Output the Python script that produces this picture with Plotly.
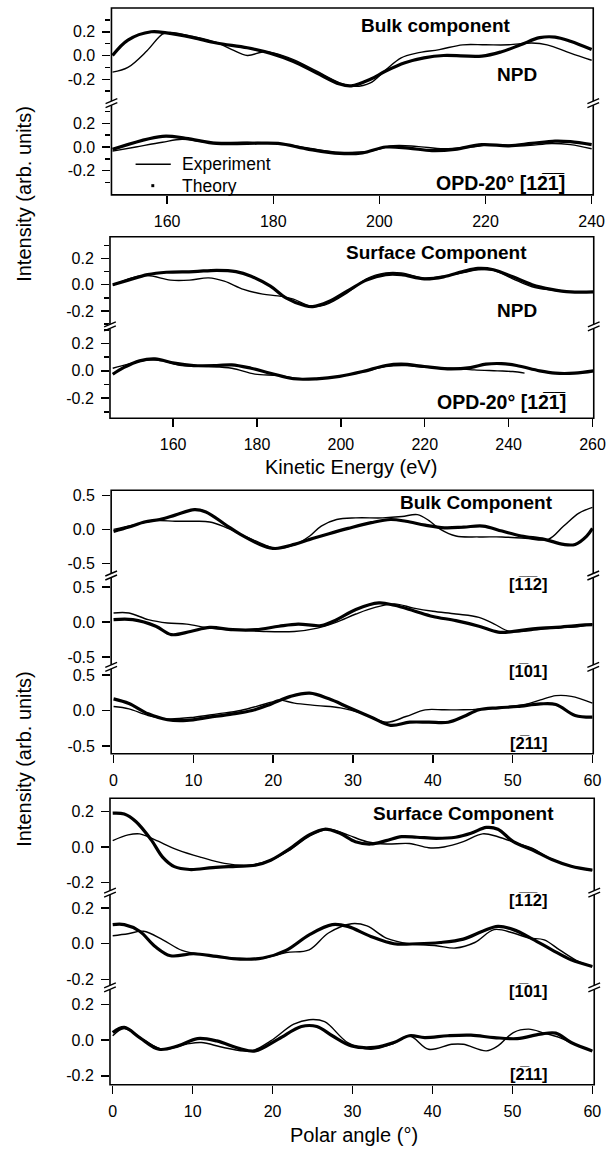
import plotly.graph_objects as go

W, H = 616, 1150

# ---------------- data ----------------
# Panel 1 (Bulk component, kinetic energy)
p1_npd_th_x = [149.7, 152.6, 157.0, 159.9, 164.9, 169.3, 175.1, 179.4, 183.8, 188.1, 192.5, 194.7, 198.3, 201.2, 204.8, 208.4, 212.1, 219.3, 222.9, 226.6, 230.2, 233.1, 236.0, 240.0]
p1_npd_th_y = [0.0, 0.13, 0.2, 0.19, 0.15, 0.105, 0.065, 0.02, -0.05, -0.145, -0.24, -0.255, -0.2, -0.13, -0.06, -0.02, 0.0, -0.005, 0.03, 0.09, 0.15, 0.155, 0.12, 0.05]
p1_npd_ex_x = [149.7, 152.6, 156.2, 159.1, 160.6, 164.9, 169.3, 172.2, 175.1, 178.0, 180.2, 183.8, 188.1, 192.5, 195.4, 198.3, 201.2, 204.1, 207.0, 211.3, 215.7, 220.0, 224.4, 228.7, 231.6, 236.0, 240.0]
p1_npd_ex_y = [-0.14, -0.1, 0.04, 0.18, 0.195, 0.16, 0.11, 0.05, 0.0, 0.03, 0.02, -0.035, -0.13, -0.23, -0.26, -0.23, -0.12, -0.02, 0.02, 0.05, 0.09, 0.09, 0.09, 0.105, 0.09, 0.02, -0.04]
p1_opd_th_x = [149.7, 159.1, 163.5, 169.3, 175.1, 180.9, 186.7, 192.5, 196.8, 201.2, 205.5, 209.9, 214.2, 219.3, 224.4, 228.7, 233.1, 236.0, 240.0]
p1_opd_th_y = [-0.02, 0.09, 0.073, 0.03, 0.03, 0.03, -0.02, -0.055, -0.05, 0.0, -0.01, -0.03, -0.02, 0.02, 0.01, 0.03, 0.05, 0.045, 0.02]
p1_opd_ex_x = [149.7, 154.1, 159.1, 162.8, 167.8, 175.1, 180.9, 186.7, 192.5, 198.3, 202.6, 207.0, 212.1, 217.1, 221.5, 227.3, 232.4, 236.0, 240.0]
p1_opd_ex_y = [-0.035, 0.0, 0.04, 0.065, 0.04, 0.04, 0.03, -0.01, -0.045, -0.035, 0.01, 0.005, -0.015, 0.0, 0.02, 0.01, 0.03, 0.02, -0.015]

# Panel 2 (Surface component, kinetic energy)
p2_npd_th_x = [145.6, 149.3, 153.9, 158.4, 164.9, 170.4, 175.0, 178.6, 183.2, 186.9, 191.5, 193.3, 197.0, 201.6, 206.1, 210.7, 214.4, 219.9, 224.5, 229.1, 232.7, 236.4, 241.0, 245.6, 250.2, 254.8, 260.3]
p2_npd_th_y = [0.0, 0.035, 0.077, 0.095, 0.1, 0.11, 0.1, 0.065, -0.01, -0.1, -0.16, -0.167, -0.13, -0.047, 0.035, 0.077, 0.077, 0.045, 0.06, 0.1, 0.124, 0.114, 0.06, 0.0, -0.035, -0.055, -0.055]
p2_npd_ex_x = [145.6, 150.2, 153.9, 159.4, 163.9, 168.5, 172.2, 176.8, 181.4, 185.0, 188.7, 192.4, 196.1, 201.6, 206.1, 210.7, 214.4, 219.9, 224.5, 229.1, 232.7, 236.4, 241.0, 245.6, 250.2, 254.8, 256.6]
p2_npd_ex_y = [-0.005, 0.052, 0.07, 0.035, 0.035, 0.052, 0.027, -0.035, -0.072, -0.085, -0.11, -0.16, -0.155, -0.06, 0.045, 0.09, 0.09, 0.05, 0.065, 0.092, 0.114, 0.11, 0.045, -0.015, -0.04, -0.055, -0.055]
p2_opd_th_x = [145.6, 148.3, 152.0, 155.7, 160.3, 164.9, 170.4, 174.0, 178.6, 183.2, 188.7, 194.2, 199.7, 205.2, 210.7, 214.4, 219.9, 225.4, 230.9, 234.6, 238.3, 241.9, 247.4, 251.1, 255.7, 260.3]
p2_opd_th_y = [-0.025, 0.025, 0.073, 0.087, 0.056, 0.039, 0.039, 0.044, 0.019, -0.017, -0.058, -0.058, -0.04, -0.005, 0.039, 0.049, 0.032, 0.015, 0.024, 0.049, 0.053, 0.039, 0.0, -0.017, -0.017, 0.0]
p2_opd_ex_x = [145.6, 149.3, 153.9, 157.5, 162.1, 168.5, 174.0, 179.5, 185.0, 190.6, 196.1, 201.6, 206.1, 210.7, 215.3, 220.8, 226.3, 231.8, 237.3, 241.0, 243.8]
p2_opd_ex_y = [0.019, 0.049, 0.08, 0.073, 0.039, 0.032, 0.019, -0.024, -0.034, -0.058, -0.053, -0.03, 0.0, 0.032, 0.039, 0.024, 0.019, 0.007, 0.0, -0.005, -0.017]

# Panel 3 (Bulk component, polar angle)
p3_112_th_x = [0, 1.93, 3.86, 5.78, 7.71, 10.12, 11.57, 13.98, 15.9, 18.8, 20.24, 22.65, 24.58, 26.99, 29.4, 32.29, 34.7, 36.63, 39.04, 41.45, 43.86, 46.27, 48.67, 51.08, 53.98, 56.39, 57.83, 59.28, 60]
p3_112_th_y = [-0.03, 0.035, 0.11, 0.146, 0.21, 0.29, 0.257, 0.073, -0.073, -0.243, -0.28, -0.22, -0.146, -0.063, 0.015, 0.1, 0.146, 0.12, 0.063, 0.024, 0.034, 0.05, -0.024, -0.097, -0.146, -0.22, -0.22, -0.097, 0.015]
p3_112_ex_x = [0, 2.41, 5.3, 7.71, 10.12, 12.05, 13.98, 16.39, 18.8, 20.24, 22.65, 24.58, 26.02, 27.95, 30.36, 33.73, 36.14, 38.07, 39.52, 40.96, 42.89, 45.78, 48.67, 51.57, 54.46, 56.39, 58.31, 60]
p3_112_ex_y = [0.0, 0.063, 0.13, 0.12, 0.12, 0.11, 0.034, -0.097, -0.22, -0.28, -0.228, -0.097, 0.05, 0.146, 0.17, 0.17, 0.19, 0.218, 0.13, 0.0, -0.097, -0.11, -0.11, -0.13, -0.146, 0.05, 0.24, 0.325]
p3_101_th_x = [0, 2.41, 5.3, 7.23, 9.64, 12.05, 14.94, 17.83, 20.72, 23.13, 26.02, 27.95, 30.36, 33.25, 35.18, 37.59, 40.0, 42.89, 45.78, 48.19, 50.12, 52.53, 55.42, 58.31, 60]
p3_101_th_y = [0.034, 0.034, -0.06, -0.18, -0.135, -0.077, -0.11, -0.11, -0.06, -0.03, -0.05, 0.034, 0.18, 0.274, 0.24, 0.163, 0.08, 0.02, -0.06, -0.145, -0.135, -0.096, -0.077, -0.048, -0.038]
p3_101_ex_x = [0, 1.93, 4.34, 6.75, 9.16, 12.05, 14.94, 18.8, 22.65, 25.54, 27.95, 30.36, 32.77, 35.18, 37.59, 40.0, 42.89, 45.78, 47.71, 49.64, 52.05, 54.94, 58.31, 60]
p3_101_ex_y = [0.13, 0.13, 0.034, -0.014, -0.03, -0.087, -0.11, -0.135, -0.135, -0.087, 0.0, 0.115, 0.21, 0.26, 0.2, 0.154, 0.115, 0.067, -0.03, -0.135, -0.125, -0.087, -0.063, -0.03]
p3_211_th_x = [0, 1.93, 4.34, 6.75, 9.16, 12.05, 14.94, 17.35, 19.76, 22.17, 24.58, 26.99, 29.4, 32.29, 34.7, 37.11, 39.52, 41.93, 43.86, 45.78, 48.19, 50.6, 53.49, 55.42, 57.83, 60]
p3_211_th_y = [0.165, 0.1, -0.047, -0.13, -0.14, -0.094, -0.047, 0.0, 0.094, 0.2, 0.245, 0.165, 0.047, -0.094, -0.21, -0.165, -0.165, -0.165, -0.085, 0.01, 0.038, 0.057, 0.094, 0.085, -0.07, -0.094]
p3_211_ex_x = [0, 1.93, 4.34, 6.75, 10.12, 13.01, 15.9, 19.76, 20.72, 22.65, 25.54, 28.43, 31.33, 34.22, 36.63, 39.04, 41.45, 43.86, 46.27, 48.67, 51.57, 53.49, 55.42, 57.35, 60]
p3_211_ex_y = [0.057, 0.024, -0.07, -0.118, -0.094, -0.047, 0.0, 0.118, 0.15, 0.104, 0.07, 0.038, -0.047, -0.165, -0.085, 0.01, 0.01, 0.01, 0.024, 0.047, 0.085, 0.15, 0.21, 0.2, 0.104]

# Panel 4 (Surface component, polar angle)
p4_112_th_x = [0, 1.45, 2.89, 4.82, 6.27, 7.71, 9.64, 12.53, 15.42, 17.83, 19.76, 22.17, 24.58, 26.51, 28.43, 30.36, 32.29, 34.22, 36.14, 38.07, 40.48, 42.89, 44.82, 46.75, 48.19, 50.12, 52.53, 54.94, 57.35, 60]
p4_112_th_y = [0.19, 0.185, 0.143, 0.04, -0.058, -0.11, -0.126, -0.115, -0.108, -0.102, -0.074, -0.008, 0.068, 0.1, 0.077, 0.03, 0.017, 0.036, 0.058, 0.055, 0.049, 0.055, 0.077, 0.11, 0.1, 0.03, -0.017, -0.07, -0.108, -0.13]
p4_112_ex_x = [0, 1.93, 3.37, 5.3, 8.19, 11.08, 13.98, 16.87, 19.76, 22.17, 24.58, 26.99, 29.4, 31.81, 34.22, 37.11, 39.52, 41.45, 43.86, 46.27, 48.19, 50.6, 52.53, 54.46, 57.35, 60]
p4_112_ex_y = [0.036, 0.068, 0.074, 0.04, -0.017, -0.058, -0.092, -0.102, -0.074, -0.017, 0.06, 0.1, 0.068, 0.03, 0.017, 0.02, -0.004, 0.0, 0.03, 0.074, 0.058, 0.02, -0.008, -0.058, -0.108, -0.13]
p4_101_th_x = [0, 1.45, 3.37, 5.3, 7.23, 10.12, 13.01, 15.9, 18.8, 21.69, 24.58, 27.47, 29.4, 32.29, 35.18, 38.07, 40.96, 43.86, 46.27, 48.19, 50.12, 52.53, 54.94, 57.35, 60]
p4_101_th_y = [0.107, 0.107, 0.07, -0.015, -0.067, -0.056, -0.071, -0.086, -0.08, -0.037, 0.05, 0.107, 0.097, 0.041, 0.0, 0.0, 0.007, 0.026, 0.07, 0.097, 0.079, 0.026, -0.034, -0.09, -0.127]
p4_101_ex_x = [0, 1.93, 3.86, 6.27, 8.67, 11.57, 14.94, 18.8, 21.69, 24.58, 26.99, 29.88, 31.81, 34.22, 37.11, 40.48, 42.89, 45.3, 47.71, 50.12, 52.05, 53.98, 55.9, 58.31, 60]
p4_101_ex_y = [0.045, 0.056, 0.07, 0.022, -0.037, -0.062, -0.08, -0.08, -0.049, -0.034, 0.06, 0.112, 0.1, 0.032, 0.0, -0.011, -0.024, 0.007, 0.079, 0.06, 0.032, 0.022, -0.034, -0.1, -0.127]
p4_211_th_x = [0, 1.45, 3.37, 5.78, 8.19, 10.6, 13.01, 15.9, 17.83, 20.72, 23.61, 25.54, 27.47, 29.88, 32.77, 35.18, 37.11, 39.04, 41.93, 44.82, 47.71, 50.6, 53.49, 55.42, 57.35, 60]
p4_211_th_y = [0.043, 0.072, 0.015, -0.051, -0.032, 0.009, -0.004, -0.047, -0.06, 0.006, 0.077, 0.077, 0.025, -0.032, -0.04, -0.013, 0.025, 0.015, 0.025, 0.028, 0.015, 0.009, 0.034, 0.04, -0.013, -0.06]
p4_211_ex_x = [0, 1.45, 3.86, 6.27, 9.16, 11.08, 13.98, 17.35, 19.76, 22.65, 24.58, 26.51, 29.4, 32.29, 35.18, 37.11, 39.52, 42.41, 43.86, 46.75, 48.19, 50.12, 52.05, 53.98, 55.9, 57.83, 60]
p4_211_ex_y = [0.025, 0.066, 0.002, -0.051, -0.023, -0.013, -0.042, -0.06, -0.004, 0.09, 0.115, 0.104, -0.013, -0.051, -0.017, 0.025, -0.051, -0.023, -0.023, -0.06, -0.032, 0.043, 0.062, 0.04, 0.015, -0.023, -0.06]

energy_ticks_1 = [160, 180, 200, 220, 240]
energy_ticks_2 = [160, 180, 200, 220, 240, 260]
angle_ticks = [0, 10, 20, 30, 40, 50, 60]
small_ticks = [-0.2, 0.0, 0.2]
small_ticktext = ["-0.2", "0.0", "0.2"]
big_ticks = [-0.5, 0.0, 0.5]
big_ticktext = ["-0.5", "0.0", "0.5"]

# ---------------- layout geometry (pixels) ----------------
FONT = "Liberation Sans, Arial, DejaVu Sans, sans-serif"

def fx(px):
    return px / W

def fy(py):
    return 1 - py / H

panels = [
    dict(xpx=(112, 605), xr=(149.5, 240.3), xt=energy_ticks_1,
         subs=[((5, 101), (-0.405, 0.400)), ((101, 192.5), (-0.404, 0.366))],
         yt=small_ticks, ytt=small_ticktext, minor=True,
         series=[[(p1_npd_th_x, p1_npd_th_y), (p1_npd_ex_x, p1_npd_ex_y)],
                 [(p1_opd_th_x, p1_opd_th_y), (p1_opd_ex_x, p1_opd_ex_y)]]),
    dict(xpx=(110.5, 605.5), xr=(144.95, 260.3), xt=energy_ticks_2,
         subs=[((234.5, 325), (-0.321, 0.366)), ((325, 416.7), (-0.347, 0.322))],
         yt=small_ticks, ytt=small_ticktext, minor=True,
         series=[[(p2_npd_th_x, p2_npd_th_y), (p2_npd_ex_x, p2_npd_ex_y)],
                 [(p2_opd_th_x, p2_opd_th_y), (p2_opd_ex_x, p2_opd_ex_y)]]),
    dict(xpx=(111.7, 605), xr=(-0.3, 60.1), xt=angle_ticks,
         subs=[((489, 575), (-0.684, 0.575)), ((575, 666.7), (-0.65, 0.66)), ((666.7, 753.3), (-0.61, 0.61))],
         yt=big_ticks, ytt=big_ticktext, minor=False,
         series=[[(p3_112_th_x, p3_112_th_y), (p3_112_ex_x, p3_112_ex_y)],
                 [(p3_101_th_x, p3_101_th_y), (p3_101_ex_x, p3_101_ex_y)],
                 [(p3_211_th_x, p3_211_th_y), (p3_211_ex_x, p3_211_ex_y)]]),
    dict(xpx=(110.5, 606), xr=(-0.34, 60.24), xt=angle_ticks,
         subs=[((798, 893.3), (-0.259, 0.274)), ((893.3, 988.3), (-0.247, 0.283)), ((988.3, 1085.5), (-0.25, 0.294))],
         yt=small_ticks, ytt=small_ticktext, minor=False,
         series=[[(p4_112_th_x, p4_112_th_y), (p4_112_ex_x, p4_112_ex_y)],
                 [(p4_101_th_x, p4_101_th_y), (p4_101_ex_x, p4_101_ex_y)],
                 [(p4_211_th_x, p4_211_th_y), (p4_211_ex_x, p4_211_ex_y)]]),
]

fig = go.Figure()
layout = dict(width=W, height=H, margin=dict(l=0, r=0, t=0, b=0),
              paper_bgcolor="white", plot_bgcolor="white", showlegend=False,
              font=dict(family=FONT, size=16, color="black"))
shapes = []
yi = 0
for pi, p in enumerate(panels):
    xname = "x" if pi == 0 else f"x{pi+1}"
    xkey = "xaxis" if pi == 0 else f"xaxis{pi+1}"
    ynames = []
    for si, ((top, bot), yr) in enumerate(p["subs"]):
        yi += 1
        yname = "y" if yi == 1 else f"y{yi}"
        ykey = "yaxis" if yi == 1 else f"yaxis{yi}"
        ynames.append(yname)
        yax = dict(domain=[fy(bot), fy(top)], range=list(yr), anchor=xname,
                   tickmode="array", tickvals=p["yt"], ticktext=p["ytt"],
                   ticks="outside", ticklen=8, tickwidth=1.5, tickcolor="black",
                   showgrid=False, zeroline=False, showline=False,
                   tickfont=dict(family=FONT, size=16, color="black"),
                   ticklabelstandoff=4, fixedrange=True)
        if p["minor"]:
            yax["minor"] = dict(tickmode="array", tickvals=[-0.3, -0.1, 0.1, 0.3],
                                ticks="outside", ticklen=5, tickwidth=1.5, tickcolor="black",
                                showgrid=False)
        layout[ykey] = yax
        th, ex = p["series"][si]
        fig.add_trace(go.Scatter(x=th[0], y=th[1], xaxis=xname, yaxis=yname, mode="lines",
                                 line=dict(color="black", width=3.2, shape="spline", smoothing=1.0),
                                 name="Theory", hoverinfo="skip"))
        fig.add_trace(go.Scatter(x=ex[0], y=ex[1], xaxis=xname, yaxis=yname, mode="lines",
                                 line=dict(color="black", width=1.4, shape="spline", smoothing=1.0),
                                 name="Experiment", hoverinfo="skip"))
    layout[xkey] = dict(domain=[fx(p["xpx"][0]), fx(p["xpx"][1])], range=list(p["xr"]),
                        anchor=ynames[-1], tickmode="array", tickvals=p["xt"],
                        ticks="outside", ticklen=8, tickwidth=1.5, tickcolor="black",
                        showgrid=False, zeroline=False, showline=False,
                        tickfont=dict(family=FONT, size=16, color="black"),
                        ticklabelstandoff=4, fixedrange=True)
    # frame
    x0, x1 = p["xpx"]
    t0 = p["subs"][0][0][0]
    b0 = p["subs"][-1][0][1]
    shapes.append(dict(type="rect", xref="paper", yref="paper", x0=fx(x0), x1=fx(x1),
                       y0=fy(b0), y1=fy(t0), line=dict(color="black", width=1.6),
                       fillcolor="rgba(0,0,0,0)", layer="above"))
    # axis breaks
    for (top, bot), _ in p["subs"][1:]:
        yb = top
        for xb in (x0, x1):
            shapes.append(dict(type="line", xref="paper", yref="paper", x0=fx(xb), x1=fx(xb),
                               y0=fy(yb - 2.5), y1=fy(yb + 1.5), line=dict(color="white", width=4),
                               layer="above"))
            shapes.append(dict(type="line", xref="paper", yref="paper", x0=fx(xb - 6), x1=fx(xb + 6),
                               y0=fy(yb), y1=fy(yb - 5), line=dict(color="black", width=1.4),
                               layer="above"))
            shapes.append(dict(type="line", xref="paper", yref="paper", x0=fx(xb - 6), x1=fx(xb + 6),
                               y0=fy(yb + 4), y1=fy(yb - 1), line=dict(color="black", width=1.4),
                               layer="above"))

# legend (drawn)
shapes.append(dict(type="line", xref="paper", yref="paper", x0=fx(136.7), x1=fx(172.7),
                   y0=fy(161.7), y1=fy(161.7), line=dict(color="black", width=1.5)))
shapes.append(dict(type="rect", xref="paper", yref="paper", x0=fx(152.8), x1=fx(155.8),
                   y0=fy(184.8), y1=fy(181.8), line=dict(width=0), fillcolor="black"))
layout["shapes"] = shapes

def ann(text, xp, yp, size=16, xanchor="center", bold=False, angle=0):
    t = f"<b>{text}</b>" if bold else text
    return dict(text=t, x=fx(xp), y=fy(yp), xref="paper", yref="paper", showarrow=False,
                xanchor=xanchor, yanchor="middle", textangle=angle,
                font=dict(family=FONT, size=size, color="black"))

OV = "\u0305"
annotations = [
    ann("Bulk component", 444.5, 23, 19, bold=True),
    ann("NPD", 527, 72, 19, bold=True),
    ann("Experiment", 181.7, 161.7, 17.5, xanchor="left"),
    ann("Theory", 181.7, 183.3, 17.5, xanchor="left"),
    ann(f"OPD-20° [12{OV}1{OV}]", 510, 181, 19.5, bold=True),
    ann("Surface Component", 445, 250, 19, bold=True),
    ann("NPD", 527, 308.3, 19, bold=True),
    ann(f"OPD-20° [12{OV}1{OV}]", 511, 400.5, 19.5, bold=True),
    ann("Kinetic Energy (eV)", 357, 466, 20),
    ann("Bulk Component", 486, 501.7, 19, bold=True),
    ann(f"[1{OV}1{OV}2]", 539, 583, 16.5, bold=True),
    ann(f"[1{OV}01]", 539, 670.5, 16.5, bold=True),
    ann(f"[2{OV}11]", 539, 743, 16.5, bold=True),
    ann("Surface Component", 472, 813.3, 19, bold=True),
    ann(f"[1{OV}1{OV}2]", 539, 900, 16.5, bold=True),
    ann(f"[1{OV}01]", 539, 991.7, 16.5, bold=True),
    ann(f"[2{OV}11]", 539, 1075, 16.5, bold=True),
    ann("Polar angle (°)", 360, 1136, 20),
    ann("Intensity (arb. units)", 23, 191, 20, angle=-90),
    ann("Intensity (arb. units)", 23, 758, 20, angle=-90),
]
layout["annotations"] = annotations
fig.update_layout(**layout)
fig.write_html("out.html", config={"displayModeBar": False, "staticPlot": True},
               post_script="document.body.style.margin='0';document.body.style.padding='0';")
